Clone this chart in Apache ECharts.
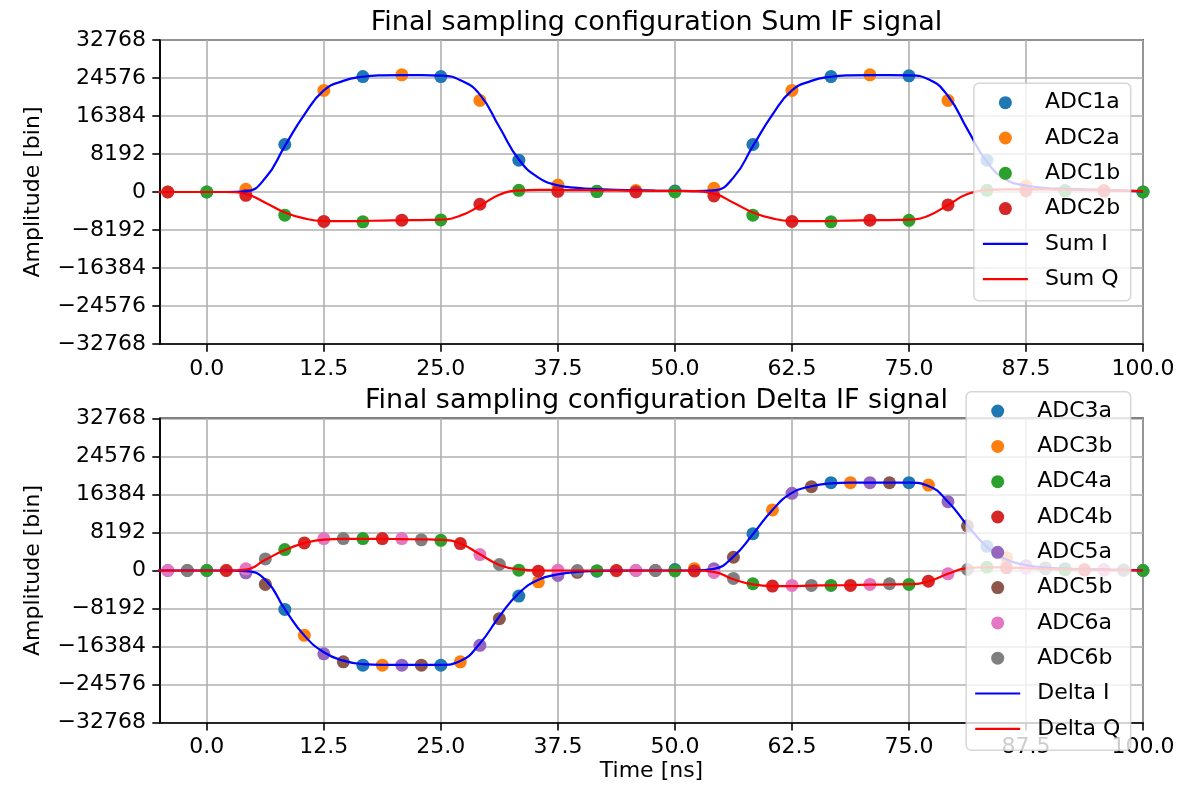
<!DOCTYPE html>
<html><head><meta charset="utf-8">
<script src="https://cdn.jsdelivr.net/npm/echarts@6/dist/echarts.min.js"></script>
<style>html,body{margin:0;padding:0;background:#fff}#c{width:1199px;height:792px}</style>
</head><body><div id="c"></div>
<script>
// ---------- tick labels ----------
const xTicks = [0, 12.5, 25, 37.5, 50, 62.5, 75, 87.5, 100];

// ---------- Sum IF signal: sample times (ns) ----------
const tEven = [0, 8.33, 16.67, 25, 33.33, 41.67, 50, 58.33, 66.67, 75, 83.33, 91.67, 100];
const tOdd  = [-4.17, 4.17, 12.5, 20.83, 29.17, 37.5, 45.83, 54.17, 62.5, 70.83, 79.17, 87.5, 95.83];
const adc1a = [0, 10240, 24890, 24890, 6870, 150, 200, 10240, 24890, 25040, 6870, 300, 0];
const adc2a = [0, 580, 21890, 25260, 19740, 1500, 300, 800, 21890, 25260, 19740, 1290, 400];
const adc1b = [0, -5000, -6440, -6010, 360, 100, 0, -5000, -6440, -6100, 360, 215, 0];
const adc2b = [0, -710, -6350, -6075, -2640, 150, 0, -860, -6350, -6075, -2790, 215, 200];

// ---------- continuous traces ----------
const lineT = [-6.25, -4.17, -2.08, 0, 2.08, 4.17, 6.25, 8.33, 10.42, 12.5, 14.58, 16.67, 18.75, 20.83, 22.92, 25,
  27.08, 29.17, 31.25, 33.33, 35.42, 37.5, 39.58, 41.67, 43.75, 45.83, 47.92, 50, 52.08, 54.17, 56.25, 58.33,
  60.42, 62.5, 64.58, 66.67, 68.75, 70.83, 72.92, 75, 77.08, 79.17, 81.25, 83.33, 85.42, 87.5, 89.58, 91.67,
  93.75, 95.83, 97.92, 100];
const sumI = [0, 0, 0, 0, 0, 150, 3000, 9900, 16700, 21900, 23950, 24850, 25150, 25200, 25200, 25100,
  24100, 21000, 14000, 7000, 3100, 1450, 900, 620, 480, 380, 300, 250, 200, 350, 3100, 9900,
  16700, 21900, 23950, 24850, 25150, 25200, 25200, 25150, 24300, 20700, 13500, 6500, 2600, 1400, 860, 680,
  580, 420, 280, 150];
const sumQ = [0, 0, 0, 0, 0, -450, -2300, -4400, -5700, -6250, -6300, -6250, -6150, -6100, -6050, -5950,
  -5100, -3000, -600, 300, 450, 430, 400, 370, 330, 290, 250, 220, 180, -350, -2300, -4400,
  -5700, -6250, -6300, -6250, -6150, -6100, -6050, -5950, -5100, -2800, -450, 400, 580, 580, 550, 500,
  430, 350, 280, 215];

// ---------- Delta IF signal: sample times (ns) ----------
const t0 = [0, 8.33, 16.67, 25, 33.33, 41.67, 50, 58.33, 66.67, 75, 83.33, 91.67, 100];
const t1 = [2.08, 10.42, 18.75, 27.08, 35.42, 43.75, 52.08, 60.42, 68.75, 77.08, 85.42, 93.75];
const t2 = [-4.17, 4.17, 12.5, 20.83, 29.17, 37.5, 45.83, 54.17, 62.5, 70.83, 79.17, 87.5, 95.83];
const t3 = [-2.08, 6.25, 14.58, 22.92, 31.25, 39.58, 47.92, 56.25, 64.58, 72.92, 81.25, 89.58, 97.92];
const adc3a = [0, -8370, -20390, -20390, -5510, -150, 200, 7910, 18900, 18900, 5200, 400, 0];
const adc3b = [0, -13950, -20390, -19670, -2430, -50, 400, 13050, 18900, 18400, 2720, 250];
const adc4a = [0, 4500, 6870, 6500, 70, -50, -100, -2850, -3210, -3000, 710, 150, 0];
const adc4b = [0, 5940, 6870, 5800, -140, 0, -100, -3350, -3210, -2300, 570, 100];
const adc5a = [0, -500, -17950, -20390, -16100, -1070, 0, 360, 16610, 18900, 14820, 1000, 150];
const adc5b = [0, -3000, -19670, -20390, -10370, -400, 0, 2850, 18040, 18890, 9620, 550, 100];
const adc6a = [0, 360, 6870, 6870, 3430, 70, 0, -430, -3210, -3000, -710, 500, 100];
const adc6b = [0, 2500, 6870, 6600, 1290, 0, 0, -1710, -3210, -2850, 210, 350, 50];

const deltaI = [0, 0, 0, 0, 0, -150, -2000, -8300, -14000, -17600, -19400, -20150, -20300, -20300, -20300, -20300,
  -19500, -15700, -9900, -4900, -2000, -850, -300, -100, -30, 0, 0, 0, 0, 360, 3000, 7800,
  13050, 16700, 18150, 18750, 18900, 18900, 18900, 18900, 18200, 14800, 9700, 5100, 2350, 1150, 650, 420,
  300, 230, 150, 0];
const deltaQ = [0, 0, 0, 0, 0, 200, 2300, 4400, 5900, 6650, 6800, 6800, 6800, 6750, 6700, 6600,
  5800, 3500, 1200, 250, 0, 0, 0, 0, 0, 0, 0, 0, 0, -300, -1900, -3000,
  -3350, -3350, -3250, -3200, -3150, -3050, -3000, -2950, -2350, -700, 500, 700, 620, 480, 350, 270,
  200, 130, 60, 0];

// ---------- build ----------
const FONT = 'DejaVu Sans';
const FS = 22;
const zip = (a, b) => a.map((v, i) => [v, b[i]]);
const C = ['#1f77b4', '#ff7f0e', '#2ca02c', '#d62728', '#9467bd', '#8c564b', '#e377c2', '#7f7f7f'];
const LINE_ICON = 'path://M0,0H45V2.2H0Z';

function scatter(name, t, v, color, gi) {
  return { name, type: 'scatter', xAxisIndex: gi, yAxisIndex: gi, data: zip(t, v),
    symbol: 'circle', symbolSize: 13, itemStyle: { color, opacity: 1 },
    emphasis: { disabled: true }, clip: true };
}
function line(name, v, color, gi) {
  return { name, type: 'line', xAxisIndex: gi, yAxisIndex: gi, data: zip(lineT, v),
    symbol: 'none', showSymbol: false, smooth: 0.5,
    lineStyle: { color, width: 2.2 }, itemStyle: { color }, emphasis: { disabled: true }, clip: true };
}
const yfmt = v => (v < 0 ? '\u2212' + Math.abs(v) : String(v));

function xAxis(gi, withName) {
  const a = { gridIndex: gi, type: 'value', min: -5, max: 100,
    axisLine: { show: true, onZero: false, lineStyle: { color: '#000', width: 1.6 } },
    axisTick: { show: true, length: 7.7, customValues: xTicks, lineStyle: { color: '#000', width: 1.6 } },
    axisLabel: { customValues: xTicks, formatter: v => v.toFixed(1), fontSize: FS, color: '#000', margin: 14, fontFamily: FONT },
    splitLine: { show: true, lineStyle: { color: '#b0b0b0', width: 1.6 } } };
  if (withName) Object.assign(a, { name: 'Time [ns]', nameLocation: 'middle', nameGap: 38,
    nameTextStyle: { fontSize: FS, color: '#000', fontFamily: FONT } });
  return a;
}
function yAxis(gi) {
  return { gridIndex: gi, type: 'value', min: -32768, max: 32768, interval: 8192,
    name: 'Amplitude [bin]', nameLocation: 'middle', nameGap: 116,
    nameTextStyle: { fontSize: FS, color: '#000', fontFamily: FONT },
    axisLine: { show: true, onZero: false, lineStyle: { color: '#000', width: 1.6 } },
    axisTick: { show: true, length: 7.7, lineStyle: { color: '#000', width: 1.6 } },
    axisLabel: { formatter: yfmt, fontSize: FS, color: '#000', margin: 14, fontFamily: FONT },
    splitLine: { show: true, lineStyle: { color: '#b0b0b0', width: 1.6 } } };
}
function legend(names, lineNames, top) {
  const data = names.map(n => ({ name: n })).concat(lineNames.map(n => ({ name: n, icon: LINE_ICON })));
  return { orient: 'vertical', right: 68.3, top, data, itemWidth: 45, itemHeight: 13, itemGap: 13.3,
    padding: [8.4, 10.5, 10.5, 9], backgroundColor: 'rgba(255,255,255,0.8)', borderColor: 'rgba(204,204,204,0.8)',
    borderWidth: 1.5, borderRadius: 5, selectedMode: false, symbolKeepAspect: true,
    textStyle: { fontSize: FS, lineHeight: 22, color: '#000', fontFamily: FONT, padding: [0, 0, 0, 12] } };
}

const option = {
  animation: false,
  backgroundColor: '#fff',
  title: [
    { text: 'Final sampling configuration Sum IF signal', left: 651.5, textAlign: 'center', top: 4,
      textStyle: { fontSize: 27, fontWeight: 'normal', color: '#000', fontFamily: FONT } },
    { text: 'Final sampling configuration Delta IF signal', left: 651.5, textAlign: 'center', top: 382.5,
      textStyle: { fontSize: 27, fontWeight: 'normal', color: '#000', fontFamily: FONT } }
  ],
  grid: [
    { left: 160, top: 40, width: 983, height: 304, show: true, borderColor: '#000', borderWidth: 1.6, backgroundColor: 'transparent' },
    { left: 160, top: 418.3, width: 983, height: 304.4, show: true, borderColor: '#000', borderWidth: 1.6, backgroundColor: 'transparent' }
  ],
  xAxis: [xAxis(0, false), xAxis(1, true)],
  yAxis: [yAxis(0), yAxis(1)],
  legend: [
    legend(['ADC1a', 'ADC2a', 'ADC1b', 'ADC2b'], ['Sum I', 'Sum Q'], 83.3),
    legend(['ADC3a', 'ADC3b', 'ADC4a', 'ADC4b', 'ADC5a', 'ADC5b', 'ADC6a', 'ADC6b'], ['Delta I', 'Delta Q'], 391.7)
  ],
  series: [
    scatter('ADC1a', tEven, adc1a, C[0], 0),
    scatter('ADC2a', tOdd, adc2a, C[1], 0),
    scatter('ADC1b', tEven, adc1b, C[2], 0),
    scatter('ADC2b', tOdd, adc2b, C[3], 0),
    line('Sum I', sumI, '#0000ff', 0),
    line('Sum Q', sumQ, '#ff0000', 0),
    scatter('ADC3a', t0, adc3a, C[0], 1),
    scatter('ADC3b', t1, adc3b, C[1], 1),
    scatter('ADC4a', t0, adc4a, C[2], 1),
    scatter('ADC4b', t1, adc4b, C[3], 1),
    scatter('ADC5a', t2, adc5a, C[4], 1),
    scatter('ADC5b', t3, adc5b, C[5], 1),
    scatter('ADC6a', t2, adc6a, C[6], 1),
    scatter('ADC6b', t3, adc6b, C[7], 1),
    line('Delta I', deltaI, '#0000ff', 1),
    line('Delta Q', deltaQ, '#ff0000', 1)
  ]
};
const chart = echarts.init(document.getElementById('c'), null, { renderer: 'canvas' });
chart.setOption(option);
</script>
</body></html>
